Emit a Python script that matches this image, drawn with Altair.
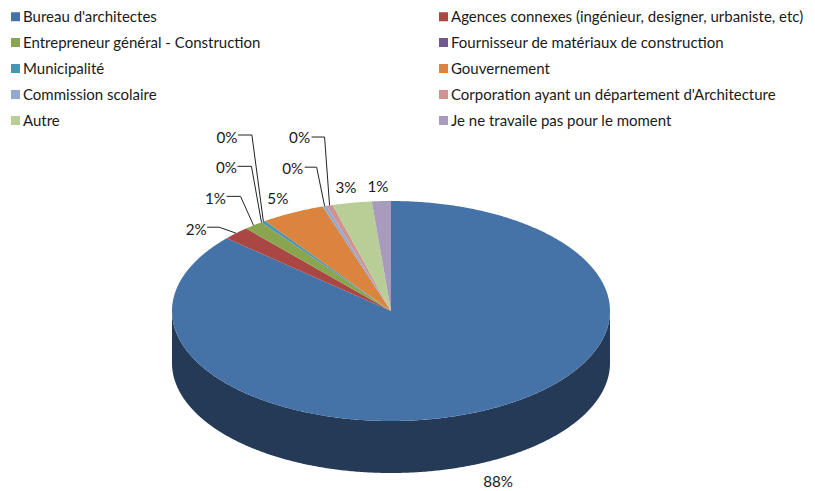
import math
import altair as alt
import pandas as pd

categories = ["Bureau d'architectes", "Agences connexes (ingénieur, designer, urbaniste, etc)",
              "Entrepreneur général - Construction", "Fournisseur de matériaux de construction",
              "Municipalité", "Gouvernement", "Commission scolaire",
              "Corporation ayant un département d'Architecture", "Autre", "Je ne travaile pas pour le moment"]
# slice sizes
shares = [86.5, 2.0, 1.4, 0.05, 0.3, 4.7, 0.3, 0.45, 2.9, 1.4]
labels = ["88%", "2%", "1%", "0%", "0%", "5%", "0%", "0%", "3%", "1%"]
colors = ["#4572A7", "#AA4643", "#89A54E", "#71588F", "#4198AF", "#DB843D", "#93A9CF", "#D19392", "#B9CD96", "#A99BBD"]

WALL = "#243A56"
FONT = "Lato"
W, H = 799, 481
CX, CY, RX, RY, DEPTH = 391, 311, 219, 110, 52

# label text offset from the slice's rim, in pixels; leader start and elbow likewise
text_off = {0: (17, 71), 1: (-40, -3), 2: (-38, -26), 3: (-35, -54), 4: (-36.5, -83.6), 5: (-15, -14),
            6: (-32, -37), 7: (-30, -67.4), 8: (-6, -15), 9: (-3.4, -14)}
lead_off = {1: [(-29, -6), (-17, -6)], 2: [(-27, -29), (-13, -29)], 3: [(-24, -56), (-10, -56)],
            4: [(-25.5, -86.6), (-11.5, -86.6)], 6: [(-20, -39), (-8, -39)], 7: [(-18, -68.4), (-5, -68.4)]}

total = sum(shares)
slice_rows, text_rows, lead_rows, wall_rows = [], [], [], []
start = 0.0
for i, (c, s) in enumerate(zip(categories, shares)):
    a0 = start / total * 2 * math.pi
    a1 = (start + s) / total * 2 * math.pi
    start += s
    steps = max(2, int((a1 - a0) / 0.01))
    slice_rows.append(dict(cat=c, k=0, x=0.0, y=0.0))
    for j in range(steps + 1):
        t = a0 + (a1 - a0) * j / steps
        slice_rows.append(dict(cat=c, k=j + 1, x=math.sin(t), y=math.cos(t)))
    m = (a0 + a1) / 2
    ax, ay = math.sin(m), math.cos(m)
    dx, dy = text_off[i]
    text_rows.append(dict(label=labels[i], x=ax + dx / RX, y=ay - dy / RY))
    if i in lead_off:
        pts = lead_off[i] + [(0, 0)]
        for k, (px, py) in enumerate(pts):
            lead_rows.append(dict(id=i, k=k, x=ax + px / RX, y=ay - py / RY))

for j in range(361):
    t = math.pi / 2 + math.pi * j / 360
    wall_rows.append(dict(x=math.sin(t), top=math.cos(t), bottom=math.cos(t) - DEPTH / RY))

xs = alt.Scale(domain=[(8 - CX) / RX, (8 + W - CX) / RX], nice=False, zero=False)
ys = alt.Scale(domain=[(CY - 8 - H) / RY, (CY - 8) / RY], nice=False, zero=False)
X = alt.X("x:Q", scale=xs, axis=None)
Y = alt.Y("y:Q", scale=ys, axis=None)

wall = alt.Chart(pd.DataFrame(wall_rows)).mark_area(color=WALL, interpolate="linear").encode(
    x=X, y=alt.Y("top:Q", scale=ys, axis=None), y2="bottom:Q")

slices = alt.Chart(pd.DataFrame(slice_rows)).mark_line(filled=True, strokeWidth=0).encode(
    x=X, y=Y, order="k:Q",
    color=alt.Color("cat:N", scale=alt.Scale(domain=categories, range=colors), sort=categories,
                    legend=alt.Legend(title=None, orient="none", legendX=0, legendY=1, columns=2,
                                      direction="horizontal", symbolType="square", symbolSize=81,
                                      symbolStrokeWidth=0, labelFont=FONT, labelFontSize=15,
                                      labelColor="#1a1a1a", labelOffset=0, columnPadding=175,
                                      rowPadding=10, padding=0, labelLimit=500, gridAlign="each")))

leaders = alt.Chart(pd.DataFrame(lead_rows)).mark_line(color="#222222", strokeWidth=1).encode(
    x=X, y=Y, detail="id:N", order="k:Q")

texts = alt.Chart(pd.DataFrame(text_rows)).mark_text(font=FONT, fontSize=15.2, color="#1a1a1a").encode(
    x=X, y=Y, text="label:N")

chart = alt.layer(wall, slices, leaders, texts).properties(
    width=W, height=H, padding=0,
    autosize=alt.AutoSizeParams(type="none", contains="padding"),
).configure_view(stroke=None)

chart.save("out.html", embed_options={"renderer": "svg", "actions": False})
